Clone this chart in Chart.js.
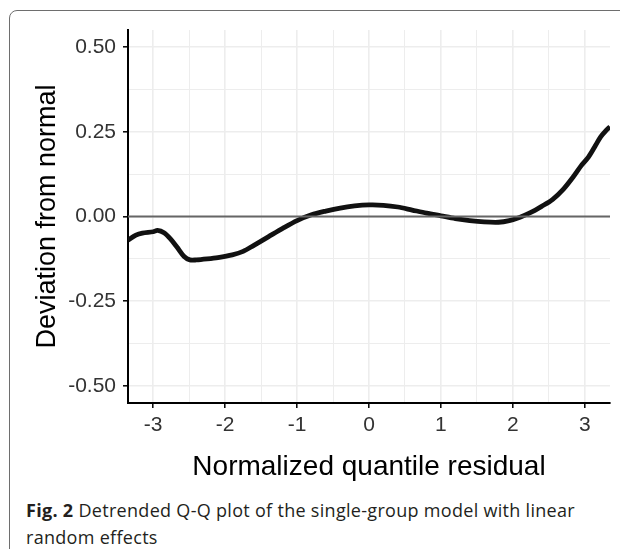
<!DOCTYPE html>
<html>
<head>
<meta charset="utf-8">
<script src="https://cdn.jsdelivr.net/npm/chart.js@4/dist/chart.umd.min.js"></script>
<style>
    body { margin: 0; background: #fff; width: 620px; height: 549px; overflow: hidden; position: relative; }
    #frame {
        position: absolute; left: 9px; top: 10px; width: 700px; height: 600px;
        border: 1.5px solid #6e6e6e; border-top-left-radius: 8px;
    }
    #chart-box { position: absolute; left: 0; top: 0; width: 620px; height: 490px; }
    #caption {
        position: absolute; left: 26px; top: 497px; width: 590px;
        font-family: "Open Sans", sans-serif; font-size: 18px; line-height: 27px;
        color: #231f20; letter-spacing: 0.3px;
    }
    #caption b { font-weight: 700; }
</style>
</head>
<body>
<div id="frame"></div>
<div id="chart-box"><canvas id="qqPlot"></canvas></div>
<div id="caption"><b>Fig. 2</b> Detrended Q-Q plot of the single-group model with linear random effects</div>
<script>
// Detrended Q-Q curve
const residualX = [
    -3.35, -3.24, -3.15, -3.0, -2.94, -2.85, -2.76, -2.67, -2.57, -2.49,
    -2.4, -2.25, -2.1, -1.9, -1.75, -1.6, -1.4, -1.2, -1.0, -0.8,
    -0.6, -0.4, -0.2, 0.0, 0.2, 0.4, 0.6, 0.8, 1.0, 1.2,
    1.4, 1.6, 1.8, 1.95, 2.1, 2.25, 2.4, 2.55, 2.7, 2.85,
    2.95, 3.05, 3.15, 3.22, 3.3, 3.35
];
const deviationY = [
    -0.07, -0.055, -0.049, -0.045, -0.041, -0.048, -0.066, -0.09, -0.118, -0.128,
    -0.128, -0.125, -0.121, -0.113, -0.103, -0.085, -0.06, -0.035, -0.012, 0.005,
    0.016, 0.025, 0.031, 0.034, 0.033, 0.028, 0.019, 0.01, 0.002, -0.006,
    -0.012, -0.016, -0.017, -0.012, -0.002, 0.012, 0.03, 0.05, 0.08, 0.12,
    0.15, 0.175, 0.21, 0.235, 0.255, 0.265
];

// Reference line at zero
const refLineX = [-3.35, 3.35];
const refLineY = [0, 0];

// Ticks (majors get labels, halves are minor grid lines)
const xTicks = [-3, -2.5, -2, -1.5, -1, -0.5, 0, 0.5, 1, 1.5, 2, 2.5, 3];
const yTicks = [-0.5, -0.375, -0.25, -0.125, 0, 0.125, 0.25, 0.375, 0.5];
const xMajor = [-3, -2, -1, 0, 1, 2, 3];
const yMajor = [-0.5, -0.25, 0, 0.25, 0.5];

const xRange = [-3.35, 3.35];
const yRange = [-0.55, 0.55];

const curvePoints = residualX.map((x, i) => ({ x: x, y: deviationY[i] }));
const refPoints = refLineX.map((x, i) => ({ x: x, y: refLineY[i] }));

const isMajor = (list, v) => list.some(m => Math.abs(m - v) < 1e-9);

const ctx = document.getElementById('qqPlot').getContext('2d');
new Chart(ctx, {
    type: 'scatter',
    data: {
        datasets: [
            {
                data: refPoints,
                showLine: true,
                borderColor: '#666666',
                borderWidth: 2,
                pointRadius: 0,
                order: 0
            },
            {
                data: curvePoints,
                showLine: true,
                borderColor: '#111111',
                borderWidth: 4.8,
                tension: 0.3,
                pointRadius: 0,
                order: 1
            }
        ]
    },
    options: {
        responsive: true,
        maintainAspectRatio: false,
        animation: false,
        events: [],
        layout: { padding: { left: 20, right: 10, top: 30, bottom: 0 } },
        plugins: { legend: { display: false }, tooltip: { enabled: false } },
        scales: {
            x: {
                type: 'linear',
                min: xRange[0],
                max: xRange[1],
                afterBuildTicks: scale => { scale.ticks = xTicks.map(v => ({ value: v })); },
                afterFit: scale => { scale.height = 87; },
                border: { display: true, color: '#000', width: 2 },
                grid: {
                    color: '#ededed',
                    lineWidth: c => isMajor(xMajor, c.tick.value) ? 1.6 : 1,
                    drawTicks: true,
                    tickLength: 5,
                    tickColor: c => isMajor(xMajor, c.tick.value) ? '#000' : 'rgba(0,0,0,0)',
                    tickWidth: 1.5
                },
                ticks: {
                    autoSkip: false,
                    maxRotation: 0,
                    padding: 5,
                    color: '#333',
                    font: { family: 'Liberation Sans', size: 21 },
                    callback: v => isMajor(xMajor, v) ? String(v) : ''
                },
                title: {
                    display: true,
                    text: 'Normalized quantile residual',
                    color: '#000',
                    font: { family: 'Liberation Sans', size: 28 },
                    padding: { top: 0, bottom: 6 }
                }
            },
            y: {
                type: 'linear',
                min: yRange[0],
                max: yRange[1],
                afterBuildTicks: scale => { scale.ticks = yTicks.map(v => ({ value: v })); },
                afterFit: scale => { scale.width = 108; },
                border: { display: true, color: '#000', width: 2 },
                grid: {
                    color: '#ededed',
                    lineWidth: c => isMajor(yMajor, c.tick.value) ? 1.6 : 1,
                    drawTicks: true,
                    tickLength: 5,
                    tickColor: c => isMajor(yMajor, c.tick.value) ? '#000' : 'rgba(0,0,0,0)',
                    tickWidth: 1.5
                },
                ticks: {
                    autoSkip: false,
                    padding: 7,
                    color: '#333',
                    font: { family: 'Liberation Sans', size: 21 },
                    callback: v => isMajor(yMajor, v) ? v.toFixed(2) : ''
                },
                title: {
                    display: true,
                    text: 'Deviation from normal',
                    color: '#000',
                    font: { family: 'Liberation Sans', size: 27 },
                    padding: { top: 11, bottom: 0 }
                }
            }
        }
    }
});
</script>
</body>
</html>
